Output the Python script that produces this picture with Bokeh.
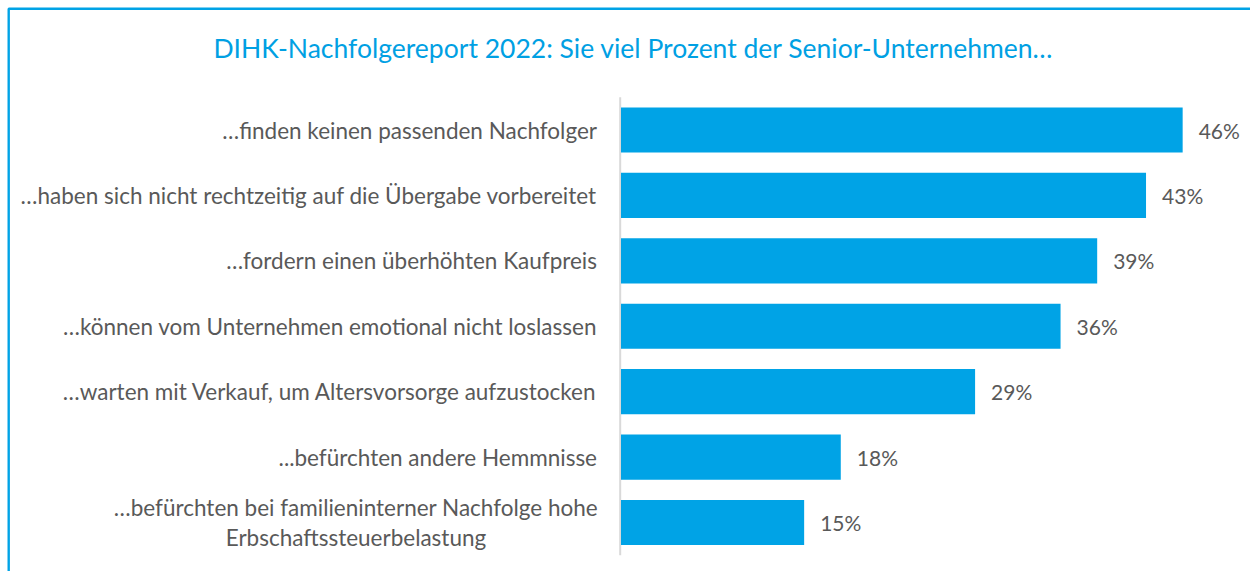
from bokeh.plotting import figure
from bokeh.models import Range1d, ColumnDataSource
from bokeh.core.properties import value
from bokeh.embed import file_html
from bokeh.resources import INLINE

title_text = "DIHK-Nachfolgereport 2022: Sie viel Prozent der Senior-Unternehmen…"
categories = [
    "…finden keinen passenden Nachfolger",
    "…haben sich nicht rechtzeitig auf die Übergabe vorbereitet",
    "…fordern einen überhöhten Kaufpreis",
    "…können vom Unternehmen emotional nicht loslassen",
    "…warten mit Verkauf, um Altersvorsorge aufzustocken",
    "...befürchten andere Hemmnisse",
    "…befürchten bei familieninterner Nachfolge hohe\nErbschaftssteuerbelastung",
]
values = [46, 43, 39, 36, 29, 18, 15]
value_labels = [f"{v}%" for v in values]

W, H = 1250, 571
X0_PX, X_SCALE = 620.5, 12.21    # pixel of 0 %, pixels per %
Y0_PX, Y_STEP = 129.5, 65.42     # pixel centre of first bar, pixels per row

def px_x(px):
    return (px - X0_PX) / X_SCALE

def px_y(py):
    return (py - Y0_PX) / Y_STEP

BLUE = "#00A3E6"
GREY = "#595959"
FONT = "Lato"
LABEL_SIZE = "22.5px"

p = figure(width=W, height=H, output_backend="svg", toolbar_location=None,
           x_range=Range1d(px_x(0), px_x(W)), y_range=Range1d(px_y(H), px_y(0)),
           min_border=0, x_axis_location=None, y_axis_location=None)
p.grid.visible = False
p.outline_line_color = None
p.background_fill_color = "white"
p.border_fill_color = "white"

idx = list(range(len(categories)))
src = ColumnDataSource(dict(y=idx, v=values, lab=value_labels))

single = [i for i, c in enumerate(categories) if "\n" not in c]
multi = [i for i, c in enumerate(categories) if "\n" in c]
src_single = ColumnDataSource(dict(y=single, cat=[categories[i] for i in single]))
src_multi = ColumnDataSource(dict(y=multi, cat=[categories[i] for i in multi]))

# frame border (top and left edge)
p.line([px_x(8.2), px_x(8.2), px_x(W + 5)], [px_y(H + 5), px_y(8.2), px_y(8.2)],
       line_color=BLUE, line_width=2.4)

# axis line
p.segment(x0=px_x(619.7), y0=-0.5, x1=px_x(619.7), y1=len(categories) - 0.5,
          line_color="#D9D9D9", line_width=2)

p.hbar(y="y", left=0, right="v", height=0.69, source=src, fill_color=BLUE, line_color=None)

p.text(x="v", y="y", text="lab", source=src, x_offset=16, text_align="left",
       text_baseline="middle", text_color=GREY, text_font=value(FONT), text_font_size="21px")

p.text(x=0, y="y", text="cat", source=src_single, x_offset=-24, text_align="right",
       text_baseline="middle", text_color=GREY, text_font=value(FONT), text_font_size=LABEL_SIZE)

p.text(x=0, y="y", text="cat", source=src_multi, x_offset=-265, text_align="center",
       text_baseline="middle", text_color=GREY, text_font=value(FONT), text_font_size=LABEL_SIZE,
       text_line_height=1.1)

p.text(x=[px_x(633)], y=[px_y(47)], text=[title_text], text_align="center", text_baseline="middle",
       text_color="#00A0E3", text_font=value(FONT), text_font_size="26.5px")

open("out.html", "w").write(file_html(p, INLINE))
